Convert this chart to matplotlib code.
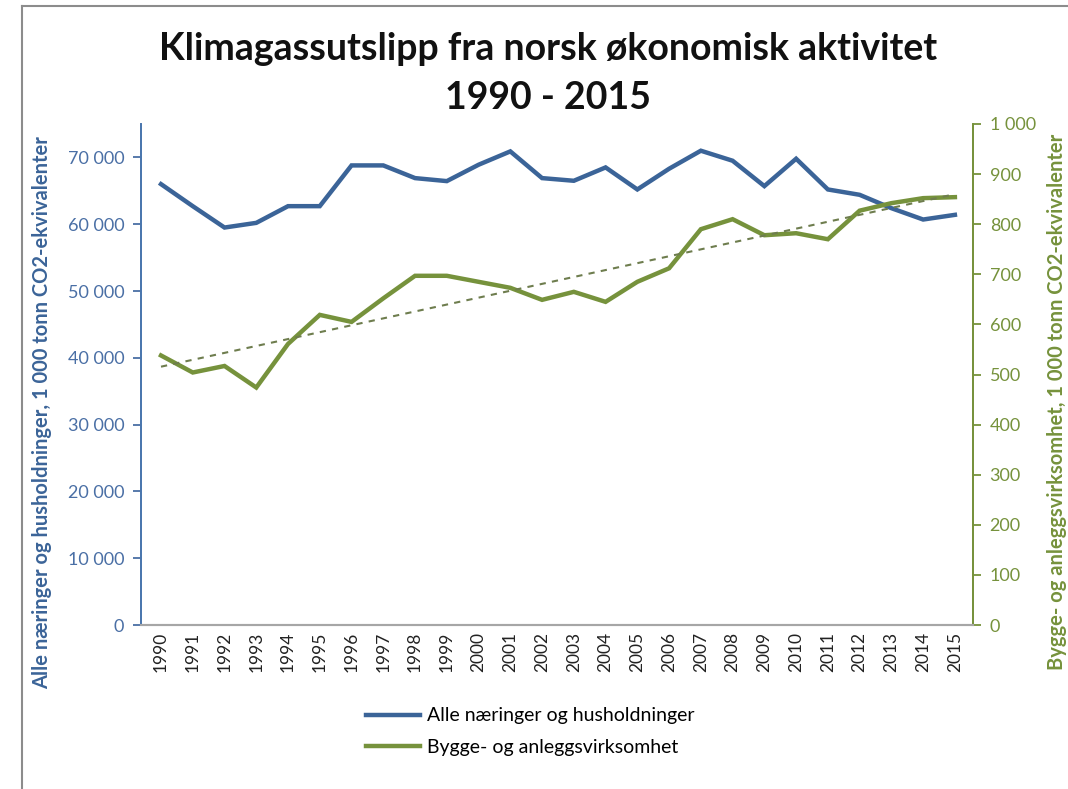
import numpy as np
import matplotlib
matplotlib.use('Agg')
import matplotlib.pyplot as plt
from matplotlib.lines import Line2D
from matplotlib.ticker import FuncFormatter

years = list(range(1990, 2016))
alle = [66000, 62700, 59500, 60200, 62700, 62700, 68800, 68800, 66900, 66450,
        68900, 70900, 66900, 66500, 68500, 65200, 68300, 71000, 69500, 65700,
        69800, 65200, 64400, 62400, 60700, 61400]
bygg = [538, 504, 517, 474, 561, 619, 605, 652, 697, 697,
        685, 673, 649, 665, 645, 685, 712, 790, 810, 778,
        782, 770, 827, 842, 852, 854]

label_alle = 'Alle næringer og husholdninger'
label_bygg = 'Bygge- og anleggsvirksomhet'

blue = '#3B6498'
green = '#76923C'

plt.rcParams['font.family'] = ['Lato', 'DejaVu Sans']

fig = plt.figure(figsize=(10.68, 7.89), dpi=100)
ax = fig.add_axes([141/1068, 1 - 625/789, (973 - 141)/1068, (625 - 124)/789])
ax2 = ax.twinx()

sep = FuncFormatter(lambda v, p: '{:,.0f}'.format(v).replace(',', ' '))

l1, = ax.plot(years, alle, color=blue, lw=3.2, solid_joinstyle='miter')
l2, = ax2.plot(years, bygg, color=green, lw=3.2, solid_joinstyle='miter')

# linear trend for the green series
k, m = np.polyfit(years, bygg, 1)
yr = np.array([years[0], years[-1]])
ax2.plot(yr, k*yr + m, color='#6E7D4E', lw=1.5, ls=(0, (3, 3)))

ax.set_xlim(1989.37, 2015.57)
ax.set_ylim(0, 75000)
ax2.set_ylim(0, 1000)
ax.set_yticks(range(0, 70001, 10000))
ax2.set_yticks(range(0, 1001, 100))
ax.yaxis.set_major_formatter(sep)
ax2.yaxis.set_major_formatter(sep)
ax.set_xticks(years)
ax.set_xticklabels([str(y) for y in years], rotation=90, fontsize=12.5, color='#222222')
ax.tick_params(axis='x', length=0, pad=5)
ax.tick_params(axis='y', colors='#4A6FA5', labelsize=13, length=6, width=1.3, pad=6)
ax2.tick_params(axis='y', colors=green, labelsize=13, length=6, width=1.3, pad=6)
for a in (ax, ax2):
    a.spines['top'].set_visible(False)
    a.spines['bottom'].set_color('#A6A6A6')
    a.spines['bottom'].set_linewidth(1.5)
    a.spines['left'].set_color('#4A76AE')
    a.spines['right'].set_color(green)
    a.spines['left'].set_linewidth(1.3)
    a.spines['right'].set_linewidth(1.3)

# axis titles
fig.text(42/1068, 1 - 413/789,
         'Alle næringer og husholdninger, 1 000 tonn CO2-ekvivalenter',
         rotation=90, ha='center', va='center', color=blue, fontsize=14.5,
         fontweight='bold')
fig.text(1057/1068, 1 - 402/789,
         'Bygge- og anleggsvirksomhet, 1 000 tonn CO2-ekvivalenter',
         rotation=90, ha='center', va='center', color=green, fontsize=14.5,
         fontweight='bold')

fig.text(0.513, 1 - 49/789, 'Klimagassutslipp fra norsk økonomisk aktivitet',
         ha='center', va='center', fontsize=27, fontweight='bold', color='#111111')
fig.text(0.513, 1 - 98/789, '1990 - 2015',
         ha='center', va='center', fontsize=27, fontweight='bold', color='#111111')

fig.legend([l1, l2], [label_alle, label_bygg], loc='upper left',
           bbox_to_anchor=(348/1068, 1 - 690/789), frameon=False, fontsize=14,
           handlelength=2.8, handletextpad=0.35, labelspacing=0.75)

# outer frame of the screenshot
fig.add_artist(Line2D([22/1068, 22/1068], [0, 1 - 6/789], color='#8C8C8C', lw=1.5))
fig.add_artist(Line2D([22/1068, 1], [1 - 6/789, 1 - 6/789], color='#8C8C8C', lw=1.5))

fig.savefig('out.png', dpi=100)
